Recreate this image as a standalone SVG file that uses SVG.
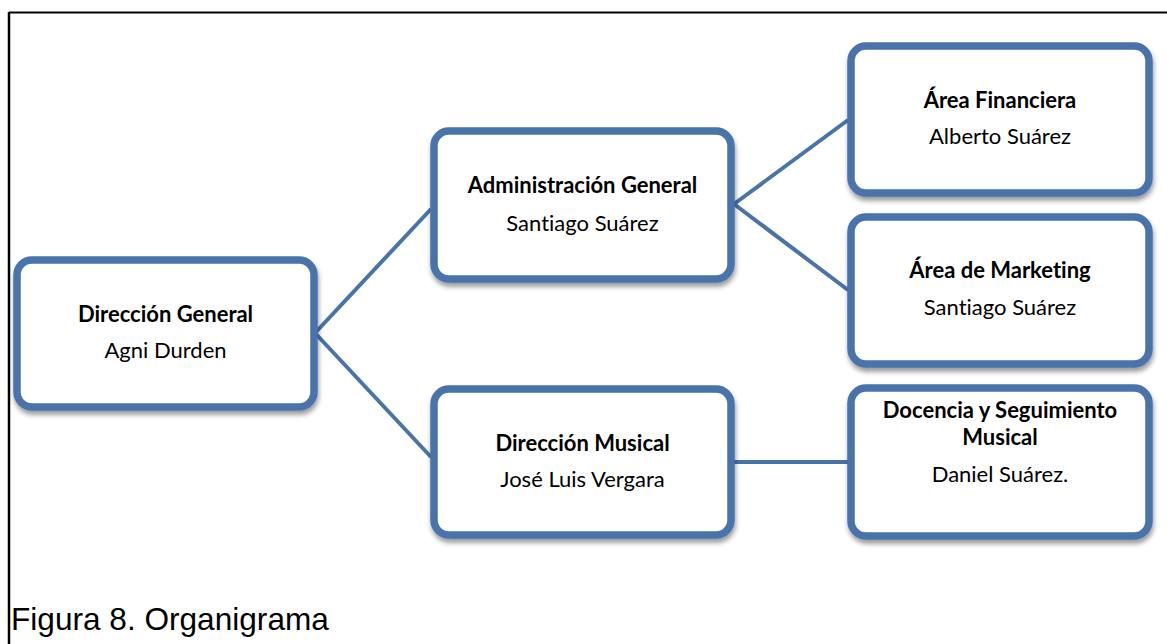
<svg xmlns="http://www.w3.org/2000/svg" width="1167" height="644" viewBox="0 0 1167 644">
<style>
.box{fill:#fff;stroke:#4873ab;stroke-width:7.5;filter:url(#sh)}
.con{stroke:#4873ab;stroke-width:4;fill:none}
.t{font-family:"Lato","Open Sans","Liberation Sans",sans-serif;font-size:22px;fill:#000;text-anchor:middle;font-variant-ligatures:none}
.b{font-weight:bold}
.cap{font-family:"Liberation Sans",Arial,sans-serif;font-size:31.6px;fill:#000}
</style>
<defs>
<filter id="sh" x="-10%" y="-10%" width="125%" height="130%">
<feGaussianBlur in="SourceAlpha" stdDeviation="2.5"/>
<feOffset dx="1" dy="4" result="o"/>
<feComponentTransfer><feFuncA type="linear" slope="0.4"/></feComponentTransfer>
<feMerge><feMergeNode/><feMergeNode in="SourceGraphic"/></feMerge>
</filter>
</defs>
<rect width="1167" height="644" fill="#fff"/>
<g id="frame">
<line x1="9" y1="12.5" x2="1167" y2="12.5" stroke="#000" stroke-width="2"/>
<line x1="9" y1="12" x2="9" y2="644" stroke="#000" stroke-width="2.5"/>
</g>
<g id="connectors">
<line class="con" x1="315" y1="333" x2="431" y2="209"/>
<line class="con" x1="315" y1="333" x2="431" y2="457"/>
<line class="con" x1="734" y1="204" x2="848" y2="120"/>
<line class="con" x1="734" y1="204" x2="848" y2="290"/>
<line class="con" x1="734" y1="462" x2="848" y2="462"/>
</g>
<g id="n-direccion-general">
<rect class="box" x="17" y="260" width="297" height="147" rx="15"/>
<text class="t b" x="165.5" y="322">Dirección General</text>
<text class="t" x="165.5" y="358">Agni Durden</text>
</g>
<g id="n-administracion">
<rect class="box" x="434" y="131" width="297" height="148" rx="15"/>
<text class="t b" x="582.5" y="193">Administración General</text>
<text class="t" x="582.5" y="231">Santiago Suárez</text>
</g>
<g id="n-musical">
<rect class="box" x="434" y="389" width="297" height="146" rx="15"/>
<text class="t b" x="582.5" y="451">Dirección Musical</text>
<text class="t" x="582.5" y="487">José Luis Vergara</text>
</g>
<g id="n-financiera">
<rect class="box" x="851" y="46" width="298" height="147" rx="15"/>
<text class="t b" x="1000" y="108">Área Financiera</text>
<text class="t" x="1000" y="144">Alberto Suárez</text>
</g>
<g id="n-marketing">
<rect class="box" x="851" y="217" width="298" height="147" rx="15"/>
<text class="t b" x="1000" y="278">Área de Marketing</text>
<text class="t" x="1000" y="315">Santiago Suárez</text>
</g>
<g id="n-docencia">
<rect class="box" x="851" y="388" width="298" height="148" rx="15"/>
<text class="t b" x="1000" y="418">Docencia y Seguimiento</text>
<text class="t b" x="1000" y="445">Musical</text>
<text class="t" x="1000" y="482">Daniel Suárez.</text>
</g>
<text class="cap" x="11" y="630">Figura 8. Organigrama</text>
</svg>
